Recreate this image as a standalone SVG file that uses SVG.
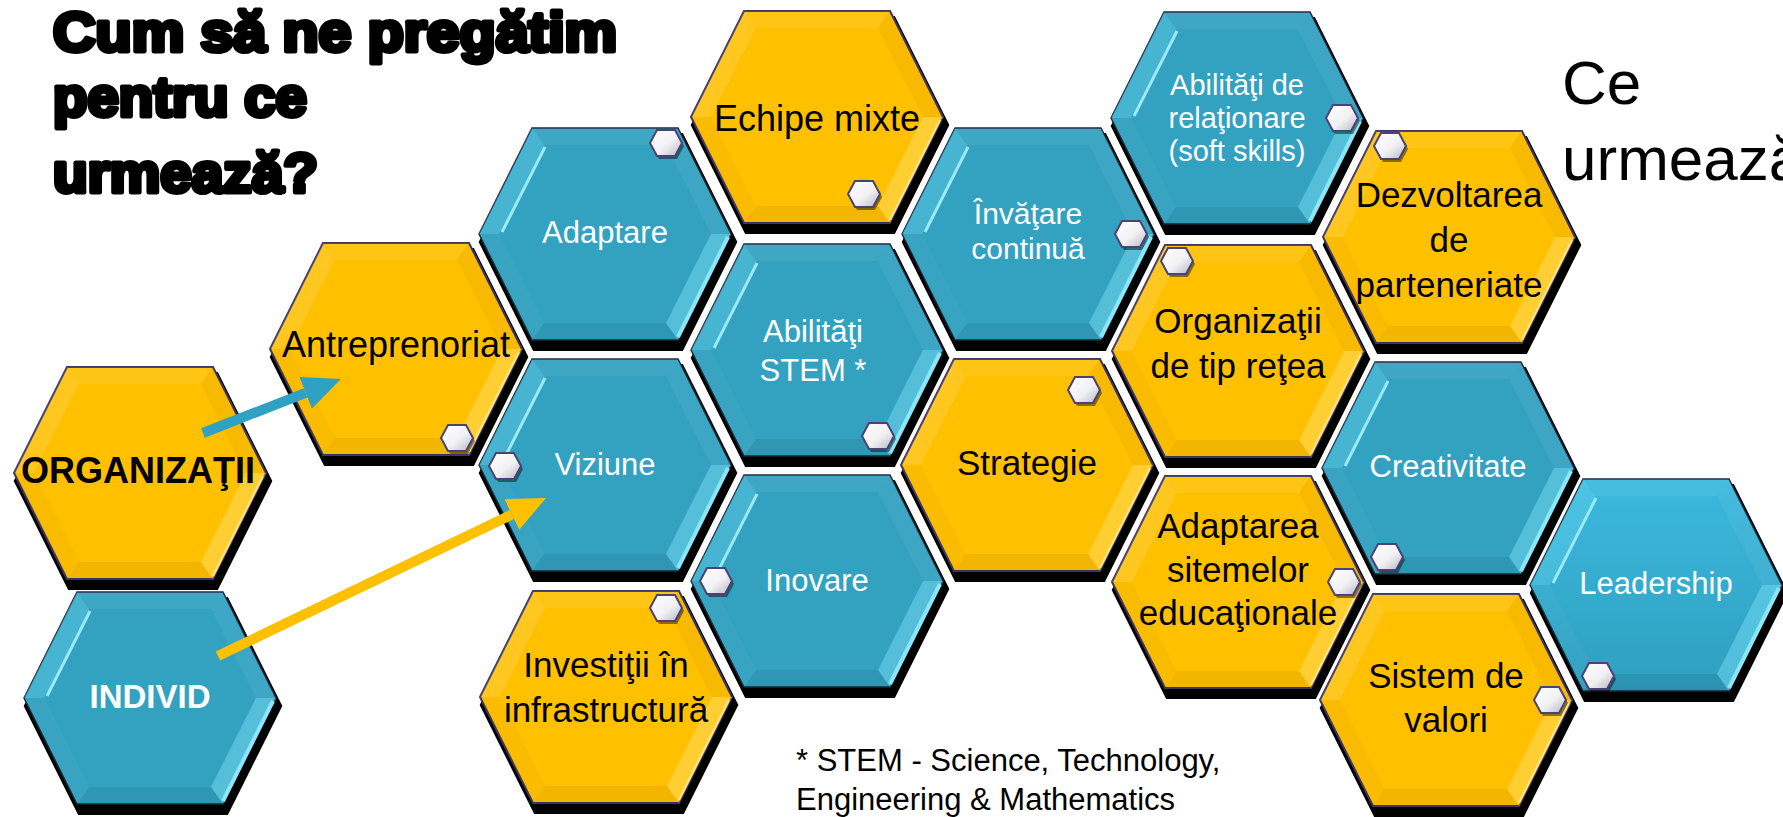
<svg xmlns="http://www.w3.org/2000/svg" width="1783" height="817" viewBox="0 0 1783 817">
<style>
.t{font-family:"Liberation Sans",Arial,sans-serif;text-anchor:middle}
.k{fill:#000;font-size:35px}
.w{fill:#fff;font-size:31px}
.b{font-weight:bold}
.sh{fill:#000;stroke:#000;stroke-width:6;stroke-linejoin:miter}
.y{fill:#FFC000;stroke:#3F3567;stroke-width:2}
.bl{fill:#33A2C1;stroke:#1B2A3A;stroke-width:1.5}
.ttl{font-family:"Liberation Sans",Arial,sans-serif;font-weight:bold;font-size:56px;fill:#000;stroke:#000;stroke-width:5;stroke-linejoin:round}
.big{font-family:"Liberation Sans",Arial,sans-serif;font-size:62px;fill:#000}
.fn{font-family:"Liberation Sans",Arial,sans-serif;font-size:31px;fill:#000}
</style>
<defs>
<polygon id="hx" points="-126,0 -73,-106 73,-106 126,0 73,106 -73,106"/>
<linearGradient id="gKnob" x1="0" y1="0" x2="1" y2="1"><stop offset="0" stop-color="#fff"/><stop offset="0.55" stop-color="#f2f2f5"/><stop offset="1" stop-color="#b5b5c4"/></linearGradient>
<linearGradient id="gLead" x1="0" y1="0" x2="0" y2="1"><stop offset="0" stop-color="#3BB9DF"/><stop offset="1" stop-color="#2F9FBF"/></linearGradient>
<g id="bevB">
<polygon points="-73,-106 73,-106 61,-89 -61,-89" fill="#fff" fill-opacity=".06"/>
<polygon points="73,-106 126,0 106,0 61,-89" fill="#fff" fill-opacity=".05"/>
<polygon points="126,0 73,106 61,89 106,0" fill="#7FE3F8" fill-opacity=".45"/>
<polygon points="73,106 -73,106 -61,89 61,89" fill="#000" fill-opacity=".07"/>
<polygon points="-73,106 -126,0 -106,0 -61,89" fill="#fff" fill-opacity=".03"/>
<polygon points="-126,0 -73,-106 -61,-89 -106,0" fill="#6CD7F0" fill-opacity=".35"/>
<line x1="-103" y1="-2" x2="-60" y2="-87" stroke="#9BEBFB" stroke-width="3"/>
<line x1="123" y1="3" x2="73" y2="103" stroke="#8BE6F9" stroke-width="4"/>
</g>
<g id="bevY">
<polygon points="-73,-106 73,-106 61,-89 -61,-89" fill="#fff" fill-opacity=".08"/>
<polygon points="73,-106 126,0 106,0 61,-89" fill="#000" fill-opacity=".03"/>
<polygon points="126,0 73,106 61,89 106,0" fill="#FFE070" fill-opacity=".45"/>
<polygon points="73,106 -73,106 -61,89 61,89" fill="#000" fill-opacity=".05"/>
<polygon points="-73,106 -126,0 -106,0 -61,89" fill="#000" fill-opacity=".02"/>
<polygon points="-126,0 -73,-106 -61,-89 -106,0" fill="#fff" fill-opacity=".12"/>
<line x1="123" y1="3" x2="73" y2="103" stroke="#FFE58A" stroke-width="2"/>
</g>
<g id="knob">
<polygon points="-16,0 -9,-13 9,-13 16,0 9,13 -9,13" transform="translate(2,3)" fill="#000" fill-opacity=".45"/>
<polygon points="-16,0 -9,-13 9,-13 16,0 9,13 -9,13" fill="url(#gKnob)" stroke="#4B4275" stroke-width="2"/>
</g>
<marker id="ahB" markerUnits="userSpaceOnUse" viewBox="0 0 38 34" refX="0" refY="17" markerWidth="38" markerHeight="34" orient="auto"><path d="M0,0 L38,17 L0,34 z" fill="#2FA1C3"/></marker>
<marker id="ahY" markerUnits="userSpaceOnUse" viewBox="0 0 38 34" refX="0" refY="17" markerWidth="38" markerHeight="34" orient="auto"><path d="M0,0 L38,17 L0,34 z" fill="#FFC000"/></marker>
</defs>
<rect width="1783" height="817" fill="#fff"/>

<g id="title">
<text class="ttl" x="53" y="51" textLength="564" lengthAdjust="spacingAndGlyphs">Cum să ne pregătim</text>
<text class="ttl" x="53" y="116" textLength="254" lengthAdjust="spacingAndGlyphs">pentru ce</text>
<text class="ttl" x="53" y="192" textLength="265" lengthAdjust="spacingAndGlyphs">urmează?</text>
</g>
<g id="subtitle">
<text class="big" x="1562" y="104">Ce</text>
<text class="big" x="1562" y="180">urmează</text>
</g>

<g id="n-organizatii" transform="translate(140,473)">
<use href="#hx" x="3" y="8" class="sh"/><use href="#hx" class="y"/><use href="#bevY"/>
<text class="t k b" x="-2" y="10" style="font-size:36px">ORGANIZAŢII</text>
</g>
<g id="n-individ" transform="translate(150,698)">
<use href="#hx" x="3" y="8" class="sh"/><use href="#hx" class="bl"/><use href="#bevB"/>
<text class="t w b" x="0" y="10" style="font-size:33px">INDIVID</text>
</g>
<g id="n-antreprenoriat" transform="translate(396,349)">
<use href="#hx" x="3" y="8" class="sh"/><use href="#hx" class="y"/><use href="#bevY"/>
<text class="t k" x="0" y="8" style="font-size:36px">Antreprenoriat</text>
<use href="#knob" x="61" y="89"/>
</g>
<g id="n-adaptare" transform="translate(605,234)">
<use href="#hx" x="3" y="8" class="sh"/><use href="#hx" class="bl"/><use href="#bevB"/>
<text class="t w" x="0" y="9">Adaptare</text>
<use href="#knob" x="61" y="-91"/>
</g>
<g id="n-viziune" transform="translate(605,465)">
<use href="#hx" x="3" y="8" class="sh"/><use href="#hx" class="bl"/><use href="#bevB"/>
<text class="t w" x="0" y="10">Viziune</text>
<use href="#knob" x="-100" y="1"/>
</g>
<g id="n-investitii" transform="translate(606,697)">
<use href="#hx" x="3" y="8" class="sh"/><use href="#hx" class="y"/><use href="#bevY"/>
<text class="t k"><tspan x="0" y="-20">Investiţii în</tspan><tspan x="0" y="25">infrastructură</tspan></text>
<use href="#knob" x="60" y="-89"/>
</g>
<g id="n-echipe" transform="translate(817,117)">
<use href="#hx" x="3" y="8" class="sh"/><use href="#hx" class="y"/><use href="#bevY"/>
<text class="t k" x="0" y="14" style="font-size:36px">Echipe mixte</text>
<use href="#knob" x="47" y="77"/>
</g>
<g id="n-stem" transform="translate(817,350)">
<use href="#hx" x="3" y="8" class="sh"/><use href="#hx" class="bl"/><use href="#bevB"/>
<text class="t w"><tspan x="-4" y="-8">Abilităţi</tspan><tspan x="-4" y="31">STEM *</tspan></text>
<use href="#knob" x="61" y="86"/>
</g>
<g id="n-inovare" transform="translate(817,581)">
<use href="#hx" x="3" y="8" class="sh"/><use href="#hx" class="bl"/><use href="#bevB"/>
<text class="t w" x="0" y="10">Inovare</text>
<use href="#knob" x="-101" y="0"/>
</g>
<g id="n-invatare" transform="translate(1028,234)">
<use href="#hx" x="3" y="8" class="sh"/><use href="#hx" class="bl"/><use href="#bevB"/>
<text class="t w" style="font-size:30px"><tspan x="0" y="-10">Învăţare</tspan><tspan x="0" y="25">continuă</tspan></text>
<use href="#knob" x="103" y="0"/>
</g>
<g id="n-strategie" transform="translate(1027,465)">
<use href="#hx" x="3" y="8" class="sh"/><use href="#hx" class="y"/><use href="#bevY"/>
<text class="t k" x="0" y="10">Strategie</text>
<use href="#knob" x="57" y="-75"/>
</g>
<g id="n-relationare" transform="translate(1237,118)">
<use href="#hx" x="3" y="8" class="sh"/><use href="#hx" class="bl"/><use href="#bevB"/>
<text class="t w" style="font-size:29px"><tspan x="0" y="-23">Abilităţi de</tspan><tspan x="0" y="10">relaţionare</tspan><tspan x="0" y="43">(soft skills)</tspan></text>
<use href="#knob" x="105" y="0"/>
</g>
<g id="n-retea" transform="translate(1238,351)">
<use href="#hx" x="3" y="8" class="sh"/><use href="#hx" class="y"/><use href="#bevY"/>
<text class="t k"><tspan x="0" y="-18">Organizaţii</tspan><tspan x="0" y="27">de tip reţea</tspan></text>
<use href="#knob" x="-61" y="-90"/>
</g>
<g id="n-adaptarea" transform="translate(1238,582)">
<use href="#hx" x="3" y="8" class="sh"/><use href="#hx" class="y"/><use href="#bevY"/>
<text class="t k"><tspan x="0" y="-44">Adaptarea</tspan><tspan x="0" y="0">sitemelor</tspan><tspan x="0" y="43">educaţionale</tspan></text>
<use href="#knob" x="106" y="0"/>
</g>
<g id="n-dezvoltarea" transform="translate(1449,237)">
<use href="#hx" x="3" y="8" class="sh"/><use href="#hx" class="y"/><use href="#bevY"/>
<text class="t k"><tspan x="0" y="-30">Dezvoltarea</tspan><tspan x="0" y="15">de</tspan><tspan x="0" y="60">parteneriate</tspan></text>
<use href="#knob" x="-59" y="-91"/>
</g>
<g id="n-creativitate" transform="translate(1448,468)">
<use href="#hx" x="3" y="8" class="sh"/><use href="#hx" class="bl"/><use href="#bevB"/>
<text class="t w" x="0" y="9">Creativitate</text>
<use href="#knob" x="-61" y="89"/>
</g>
<g id="n-sistem" transform="translate(1446,700)">
<use href="#hx" x="3" y="8" class="sh"/><use href="#hx" class="y"/><use href="#bevY"/>
<text class="t k"><tspan x="0" y="-12">Sistem de</tspan><tspan x="0" y="32">valori</tspan></text>
<use href="#knob" x="104" y="0"/>
</g>
<g id="n-leadership" transform="translate(1656,585)">
<use href="#hx" x="3" y="8" class="sh"/><use href="#hx" fill="url(#gLead)" stroke="#1B2A3A" stroke-width="1.5"/><use href="#bevB"/>
<text class="t w" x="0" y="9">Leadership</text>
<use href="#knob" x="-58" y="91"/>
</g>

<g id="connectors">
<line x1="203" y1="433" x2="305.6" y2="392.8" stroke="#2FA1C3" stroke-width="10" marker-end="url(#ahB)"/>
<line x1="218" y1="656" x2="511.8" y2="514.5" stroke="#FFC000" stroke-width="10" marker-end="url(#ahY)"/>
</g>

<g id="footnote">
<text class="fn" x="796" y="771">* STEM - Science, Technology,</text>
<text class="fn" x="796" y="810">Engineering &amp; Mathematics</text>
</g>
</svg>
